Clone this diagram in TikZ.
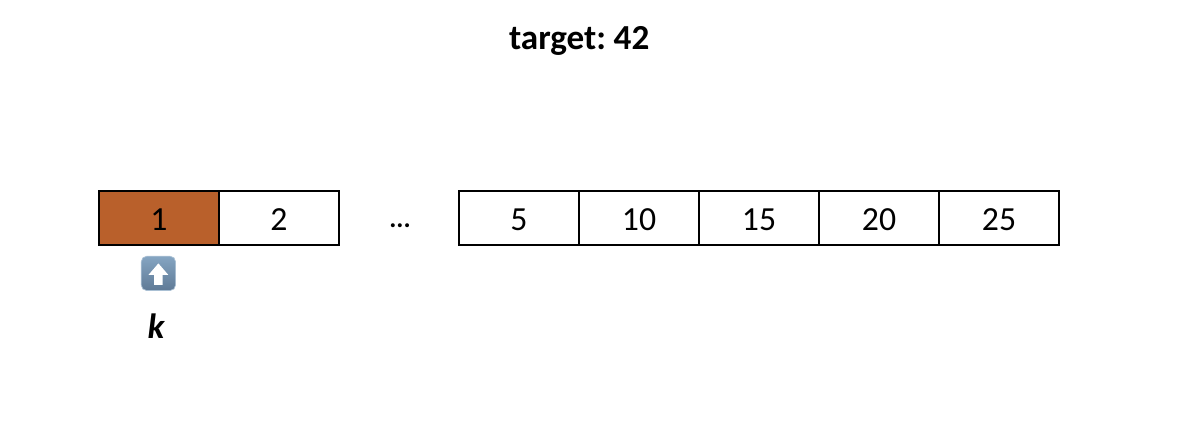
\documentclass[tikz,border=0pt]{standalone}
\usepackage{fontspec}
\setmainfont{Carlito}
\usetikzlibrary{calc}
\definecolor{rust}{HTML}{B9602B}
\definecolor{icontop}{HTML}{85A5C2}
\definecolor{iconbot}{HTML}{5F7A96}
\tikzset{
  cellbox/.style={draw=black, line width=1.4pt, minimum width=3cm, minimum height=1.35cm, inner sep=0pt, text height=17.3pt, text depth=0pt, font=\fontsize{24}{26}\selectfont},
  iconbox/.style={draw=icontop!70!white, line width=0.5pt, rounded corners=4pt, minimum size=0.86cm, inner sep=0pt, top color=icontop, bottom color=iconbot},
}

\begin{document}
\begin{tikzpicture}
  \useasboundingbox (0,0) rectangle (30,11);

  \newcommand{\cell}[4]{
    \node[cellbox, fill=#4] (#1) at (#2,5.55) {#3};
  };

  \node[font=\fontsize{25}{27}\selectfont\bfseries] (target) at (14.48,9.97) {target:\hspace{-2pt} 42};

  \cell{c1}{3.975}{1}{rust};
  \cell{c2}{6.975}{2}{white};
  % gap for the dots
  \cell{c5}{12.975}{5}{white};
  \cell{c10}{15.975}{10}{white};
  \cell{c15}{18.975}{15}{white};
  \cell{c20}{21.975}{20}{white};
  \cell{c25}{24.975}{25}{white};

  \node[font=\fontsize{19}{21}\selectfont\bfseries] (dots) at (10,5.36) {...};

  \node[iconbox] (icon) at (3.96,4.165) {};
  \fill[white] ($(icon)+(0,0.25)$) -- ++(0.25,-0.29) -- ++(-0.145,0) -- ++(0,-0.25)
    -- ++(-0.21,0) -- ++(0,0.25) -- ++(-0.145,0) -- cycle;

  \node[font=\fontsize{25}{27}\selectfont\bfseries\itshape] (k) at (3.9,2.85) {k};
\end{tikzpicture}
\end{document}
